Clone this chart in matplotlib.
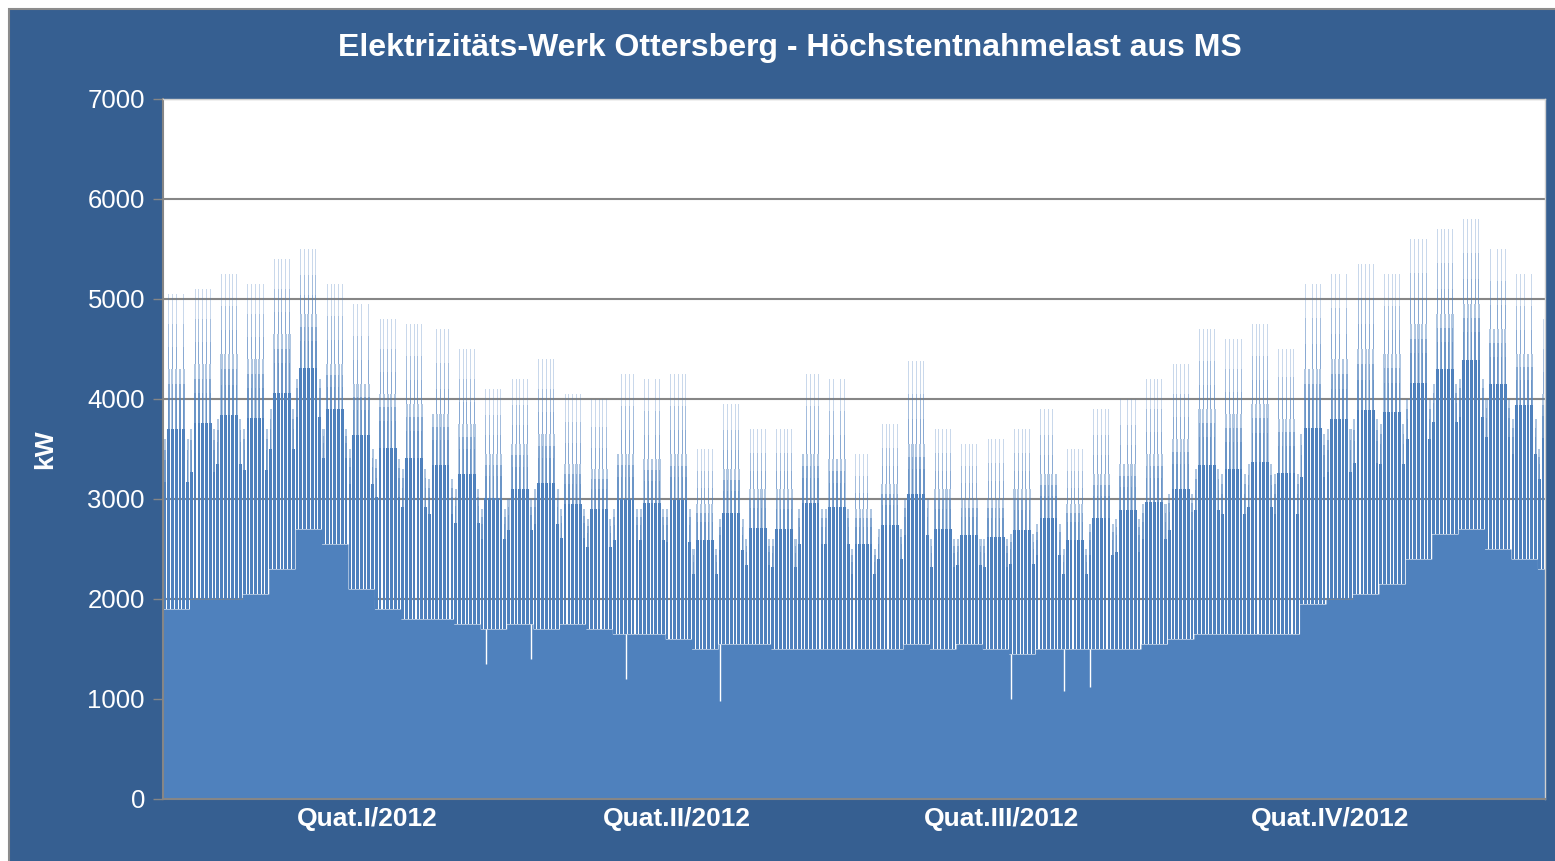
import numpy as np
import matplotlib
matplotlib.use('Agg')
import matplotlib.pyplot as plt
from matplotlib.patches import Rectangle

# Wochenwerte (kW), 2012 beginnt am Sonntag
peak_kw = [5050, 5100, 5250, 5150, 5400, 5500, 5150, 4950, 4800, 4750,
           4700, 4500, 4100, 4200, 4400, 4050, 4000, 4250, 4200, 4250,
           3500, 3950, 3700, 3700, 4250, 4200, 3450, 3750, 4380, 3700,
           3550, 3600, 3700, 3900, 3500, 3900, 4000, 4200, 4350, 4700,
           4600, 4750, 4500, 5150, 5250, 5350, 5250, 5600, 5700, 5800,
           5500, 5250, 4800]
day_kw = [4300, 4350, 4450, 4400, 4650, 4850, 4350, 4150, 4050, 3950,
          3850, 3750, 3450, 3550, 3650, 3350, 3300, 3450, 3400, 3450,
          2950, 3300, 3100, 3100, 3450, 3400, 2900, 3150, 3550, 3100,
          3000, 3000, 3100, 3250, 2950, 3250, 3350, 3450, 3600, 3900,
          3850, 3950, 3800, 4300, 4400, 4500, 4450, 4750, 4850, 4950,
          4700, 4450, 4050]
wend_kw = [3600, 3700, 3800, 3700, 3900, 4200, 3700, 3500, 3400, 3300,
           3200, 3100, 2900, 3000, 3100, 2900, 2800, 2900, 2900, 2900,
           2500, 2800, 2600, 2600, 2900, 2900, 2500, 2700, 3000, 2600,
           2600, 2600, 2650, 2750, 2500, 2750, 2800, 2950, 3050, 3300,
           3250, 3350, 3250, 3650, 3700, 3800, 3750, 4000, 4150, 4200,
           4000, 3800, 3500]
night_kw = [1900, 2000, 2000, 2050, 2300, 2700, 2550, 2100, 1900, 1800,
            1800, 1750, 1700, 1750, 1700, 1750, 1700, 1650, 1650, 1600,
            1500, 1550, 1550, 1500, 1500, 1500, 1500, 1500, 1550, 1500,
            1550, 1500, 1450, 1500, 1500, 1500, 1500, 1550, 1600, 1650,
            1650, 1650, 1650, 1950, 2000, 2050, 2150, 2400, 2650, 2700,
            2500, 2400, 2300]

# einzelne Tage mit tiefen Einbruechen (Feiertage)
dip_days = [85, 97, 122, 147, 224, 238, 245]
dip_kw = [1350, 1400, 1200, 980, 1000, 1080, 1120]

quarter_pos = [54, 136, 222, 309]
quarter_labels = ['Quat.I/2012', 'Quat.II/2012', 'Quat.III/2012', 'Quat.IV/2012']

n_days = 366
panel = '#365F91'
fill = '#4F81BD'
font = 'Liberation Sans'

days = np.arange(n_days)
wk = days // 7
weekend = (days % 7 == 0) | (days % 7 == 6)
peak = np.where(weekend, np.array(wend_kw)[wk], np.array(peak_kw)[wk])
top = np.where(weekend, np.array(wend_kw)[wk], np.array(day_kw)[wk])
night = np.array(night_kw)[wk]

fig = plt.figure(figsize=(15.55, 8.61), dpi=100)
fig.patch.set_facecolor('white')
fig.patches.append(Rectangle((9 / 1555, -0.05), 1.1, 0.05 + 1 - 9 / 861,
                             transform=fig.transFigure, facecolor=panel,
                             edgecolor='#8C8C8C', lw=1.5, zorder=-5))

ax = fig.add_axes([163 / 1555, 1 - 799 / 861, 1382 / 1555, 700 / 861])
ax.set_zorder(2)
ax.set_facecolor('white')

# Grundlast (Nacht) als Flaeche
ax.fill_between(np.append(days, n_days), np.append(night, night[-1]),
                step='post', color=fill, lw=0, zorder=2)

# Tagesverlauf: unten dicht, nach oben auslaufend
mid = night + (top - night) * 0.75
ax.bar(days + 0.5, mid - night, bottom=night, width=0.72, color=fill, lw=0, zorder=2)
for k, w in zip([1.0, 0.75, 0.5], [0.55, 0.45, 0.35]):
    ax.bar(days + 0.5, (top - mid) * k, bottom=mid, width=w, color=fill,
           alpha=0.45, lw=0, zorder=2)
for k in [1.0, 0.6, 0.3]:
    ax.bar(days[~weekend] + 0.5, ((peak - top) * k)[~weekend], bottom=top[~weekend],
           width=0.25, color=fill, alpha=0.3, lw=0, zorder=2)

ax.vlines(np.array(dip_days) + 0.5, dip_kw, np.array(night_kw)[np.array(dip_days) // 7],
          color='white', lw=1, zorder=3)

ax.set_xlim(0, n_days)
ax.set_ylim(0, 7000)
ax.set_yticks(range(0, 7001, 1000))
ax.yaxis.grid(True, color='#868686', lw=1.5, zorder=1)
ax.set_axisbelow(True)
ax.set_xticks(quarter_pos)
ax.set_xticklabels(quarter_labels, fontsize=19, fontweight='bold',
                   color='white', family=font)
ax.tick_params(axis='x', length=0, pad=6)
ax.tick_params(axis='y', length=7, width=1, color='#868686', pad=6,
               labelsize=18.5, labelcolor='white')
for lbl in ax.get_yticklabels():
    lbl.set_family(font)
for s in ['left', 'bottom']:
    ax.spines[s].set_color('#868686')
    ax.spines[s].set_linewidth(1.5)
for s in ['top', 'right']:
    ax.spines[s].set_color('#D0D0D0')
    ax.spines[s].set_linewidth(1)

ax.set_ylabel('kW', fontsize=19, fontweight='bold', color='white',
              family=font, labelpad=22)
fig.text(790 / 1555, 1 - 48 / 861,
         'Elektrizitäts-Werk Ottersberg - Höchstentnahmelast aus MS',
         ha='center', va='center', fontsize=23, fontweight='bold',
         color='white', family=font)

fig.savefig('out.png', dpi=100, facecolor=fig.get_facecolor())
